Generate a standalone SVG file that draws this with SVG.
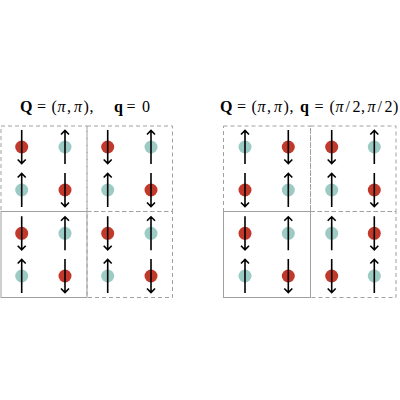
<svg xmlns="http://www.w3.org/2000/svg" width="400" height="400" viewBox="0 0 400 400">
<style>
.t{font-family:"Liberation Serif","DejaVu Serif",serif;font-size:16px;fill:#000}
.b{font-weight:bold}
.i{font-style:italic}
.box{fill:none;stroke:#a0a0a0;stroke-width:1}
.dash{stroke-dasharray:4 3}
.red{fill:#c0392b}
.teal{fill:#9ccac4}
.ar{fill:none;stroke:#000;stroke-width:1.6}
</style>
<defs>
<g id="up"><circle class="teal" cx="0" cy="0" r="6.5"/><path class="ar" d="M0,17V-16.5M-4,-12.5L0,-16.5L4,-12.5"/></g>
<g id="dn"><circle class="red" cx="0" cy="0" r="6.5"/><path class="ar" d="M0,-17V16.5M-4,12.5L0,16.5L4,12.5"/></g>
</defs>
<g id="title-left">
<text class="t" y="112"><tspan class="b" x="20">Q</tspan><tspan x="37 51.5">=(</tspan><tspan class="i" x="57.5">π</tspan><tspan x="67">,</tspan><tspan class="i" x="74">π</tspan><tspan x="83.5 89.5">),</tspan><tspan class="b" x="114">q</tspan><tspan x="126.5 142">=0</tspan></text>
</g>
<g id="title-right">
<text class="t" y="112"><tspan class="b" x="220">Q</tspan><tspan x="237 251.5">=(</tspan><tspan class="i" x="257.5">π</tspan><tspan x="267">,</tspan><tspan class="i" x="274">π</tspan><tspan x="283.5 289.5">),</tspan><tspan class="b" x="300">q</tspan><tspan x="314.5 329.5">=(</tspan><tspan class="i" x="335.5">π</tspan><tspan x="345.5 352.5 361">/2,</tspan><tspan class="i" x="367.5">π</tspan><tspan x="377.5 384.5 393">/2)</tspan></text>
</g>
<g id="left-boxes">
<rect class="box dash" x="1" y="126" width="86" height="85.5"/>
<rect class="box dash" x="87" y="126" width="85.5" height="85.5"/>
<rect class="box dash" x="87" y="211.5" width="85.5" height="86"/>
<rect class="box" x="1" y="211.5" width="86" height="86"/>
</g>
<g id="right-boxes">
<rect class="box dash" x="223.5" y="126" width="87" height="85.5"/>
<rect class="box dash" x="310.5" y="126" width="85.5" height="85.5"/>
<rect class="box dash" x="310.5" y="211.5" width="85.5" height="86"/>
<rect class="box" x="223.5" y="211.5" width="87" height="86"/>
</g>
<g id="left-spins">
<use href="#dn" x="21.7" y="147"/><use href="#up" x="65" y="147"/><use href="#dn" x="107.7" y="147"/><use href="#up" x="151" y="147"/>
<use href="#up" x="21.7" y="190"/><use href="#dn" x="65" y="190"/><use href="#up" x="107.7" y="190"/><use href="#dn" x="151" y="190"/>
<use href="#dn" x="21.7" y="233.3"/><use href="#up" x="65" y="233.3"/><use href="#dn" x="107.7" y="233.3"/><use href="#up" x="151" y="233.3"/>
<use href="#up" x="21.7" y="276"/><use href="#dn" x="65" y="276"/><use href="#up" x="107.7" y="276"/><use href="#dn" x="151" y="276"/>
</g>
<g id="right-spins">
<use href="#up" x="245" y="147"/><use href="#dn" x="288.3" y="147"/><use href="#dn" x="331.7" y="147"/><use href="#up" x="374.3" y="147"/>
<use href="#dn" x="245" y="190"/><use href="#up" x="288.3" y="190"/><use href="#up" x="331.7" y="190"/><use href="#dn" x="374.3" y="190"/>
<use href="#dn" x="245" y="233.3"/><use href="#up" x="288.3" y="233.3"/><use href="#up" x="331.7" y="233.3"/><use href="#dn" x="374.3" y="233.3"/>
<use href="#up" x="245" y="276"/><use href="#dn" x="288.3" y="276"/><use href="#dn" x="331.7" y="276"/><use href="#up" x="374.3" y="276"/>
</g>
</svg>
